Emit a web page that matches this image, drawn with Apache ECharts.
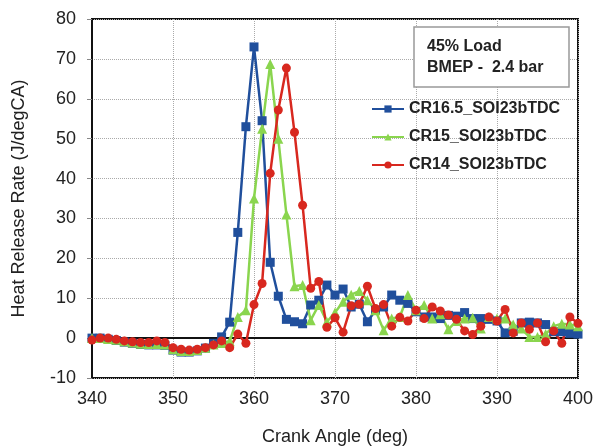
<!DOCTYPE html>
<html>
<head>
<meta charset="UTF-8">
<title>Heat Release Rate</title>
<script src="https://cdn.jsdelivr.net/npm/echarts@6/dist/echarts.min.js"></script>
<style>
  html, body { margin: 0; padding: 0; background: #fff; }
  #main { width: 602px; height: 448px; }
</style>
</head>
<body>
<div id="main"></div>
<script>
// crank angle, deg (1 deg steps)
var angles = [340, 341, 342, 343, 344, 345, 346, 347, 348, 349,
              350, 351, 352, 353, 354, 355, 356, 357, 358, 359,
              360, 361, 362, 363, 364, 365, 366, 367, 368, 369,
              370, 371, 372, 373, 374, 375, 376, 377, 378, 379,
              380, 381, 382, 383, 384, 385, 386, 387, 388, 389,
              390, 391, 392, 393, 394, 395, 396, 397, 398, 399, 400];

var cr165 = [0, 0, -0.3, -0.6, -1, -1.3, -1.6, -1.7, -1.7, -1.8,
             -3, -3.5, -3.5, -3.2, -2.5, -1.3, 0.3, 4, 26.5, 53,
             73, 54.5, 19, 10.5, 4.7, 4.1, 3.6, 8.3, 9.5, 13.3,
             10.8, 12.3, 7.8, 8.5, 4.1, 7, 7.8, 10.8, 9.5, 8.7,
             6.6, 5.3, 5.3, 4.9, 5.7, 5.5, 6.4, 4.9, 4.9, 4.7,
             4.3, 1.3, 1.7, 3.8, 4, 3.8, 3.4, 1.6, 1.6, 1.2, 1];

var cr15 = [0, 0, -0.2, -0.4, -0.8, -1.1, -1.4, -1.5, -1.5, -1.6,
            -2.8, -3.2, -3.2, -3, -2.4, -1.6, -1.2, -0.8, 5.3, 7,
            35, 52.5, 68.7, 50, 31, 13, 13.3, 4.5, 8.3, 4.1,
            6.4, 9.1, 10.9, 11.8, 9.5, 7, 2, 4.9, 5.3, 10.8,
            7, 8.3, 4.9, 6, 2.2, 4.3, 4.9, 5.1, 2.4, 5.3,
            4.9, 4.9, 3.4, 2.4, 0.3, 0.3, 1, 3, 3.6, 3.4, 3];

var cr14 = [-0.5, 0, 0, -0.3, -0.7, -0.9, -1.1, -1.1, -0.7, -1.1,
            -2.4, -2.8, -3, -2.8, -2.4, -1.7, -0.7, -2.4, 1, -1.3,
            8.4, 13.7, 41.3, 57.2, 67.7, 51.6, 33.3, 12.5, 14.2, 2.7,
            5.1, 1.5, 8.1, 8.5, 13, 7.4, 8.4, 3, 5.2, 4.3,
            7, 4.9, 7.8, 6.8, 5.8, 4.7, 1.8, 0.9, 3, 5.3,
            4.3, 7.2, 1.3, 3.8, 2.2, 3.8, -0.9, 1.8, -1.3, 5.3, 3.7];

function pairs(vals) {
    return angles.map(function (a, i) { return [a, vals[i]]; });
}

var font = 'Liberation Sans, Arial, sans-serif';
var myChart = echarts.init(document.getElementById('main'));
var option = {
    animation: false,
    backgroundColor: '#fff',
    title: {
        text: '45% Load\nBMEP -  2.4 bar',
        left: 414,
        top: 27,
        padding: [9, 26, 9, 13],
        borderColor: '#999',
        borderWidth: 1.5,
        backgroundColor: '#fff',
        textStyle: {
            fontFamily: font,
            fontSize: 16,
            fontWeight: 'bold',
            color: '#222',
            lineHeight: 21
        }
    },
    legend: {
        orient: 'vertical',
        left: 366,
        top: 96,
        itemWidth: 32,
        itemHeight: 9,
        itemGap: 12,
        textStyle: {
            fontFamily: font,
            fontSize: 16,
            fontWeight: 'bold',
            color: '#222'
        },
        data: ['CR16.5_SOI23bTDC', 'CR15_SOI23bTDC', 'CR14_SOI23bTDC']
    },
    grid: {
        left: 92,
        right: 24,
        top: 19,
        bottom: 70,
        outerBoundsMode: 'none',
        show: true,
        borderColor: '#111',
        borderWidth: 2
    },
    xAxis: {
        type: 'value',
        min: 340,
        max: 400,
        interval: 10,
        name: 'Crank Angle (deg)',
        nameLocation: 'middle',
        nameGap: 50,
        nameTextStyle: { fontFamily: font, fontSize: 18, color: '#222' },
        axisLine: { show: true, lineStyle: { color: '#111', width: 2 } },
        axisTick: { show: false },
        axisLabel: { fontFamily: font, fontSize: 18, color: '#222', margin: 12 },
        splitLine: { show: true, lineStyle: { color: '#aaa', type: 'dotted', width: 1 } }
    },
    yAxis: {
        type: 'value',
        min: -10,
        max: 80,
        interval: 10,
        name: 'Heat Release Rate (J/degCA)',
        nameLocation: 'middle',
        nameGap: 64,
        nameTextStyle: { fontFamily: font, fontSize: 18, color: '#222' },
        axisLine: { show: true, lineStyle: { color: '#111', width: 2 } },
        axisTick: { show: true, inside: false, length: 5, lineStyle: { color: '#888' } },
        axisLabel: { fontFamily: font, fontSize: 18, color: '#222', margin: 16 },
        splitLine: { show: true, lineStyle: { color: '#aaa', type: 'dotted', width: 1 } }
    },
    series: [
        {
            name: 'CR16.5_SOI23bTDC',
            type: 'line',
            data: pairs(cr165),
            symbol: 'rect',
            symbolSize: 9,
            color: '#204f9c',
            lineStyle: { width: 2.5 },
            itemStyle: { color: '#204f9c' }
        },
        {
            name: 'CR15_SOI23bTDC',
            type: 'line',
            data: pairs(cr15),
            symbol: 'triangle',
            symbolSize: 10,
            color: '#8ad54e',
            lineStyle: { width: 2.5 },
            itemStyle: { color: '#8ad54e' }
        },
        {
            name: 'CR14_SOI23bTDC',
            type: 'line',
            data: pairs(cr14),
            symbol: 'circle',
            symbolSize: 9,
            color: '#d8281f',
            lineStyle: { width: 2.5 },
            itemStyle: { color: '#d8281f' }
        }
    ]
};
myChart.setOption(option);
window.addEventListener('resize', function () {
    myChart.resize();
});
</script>
</body>
</html>
